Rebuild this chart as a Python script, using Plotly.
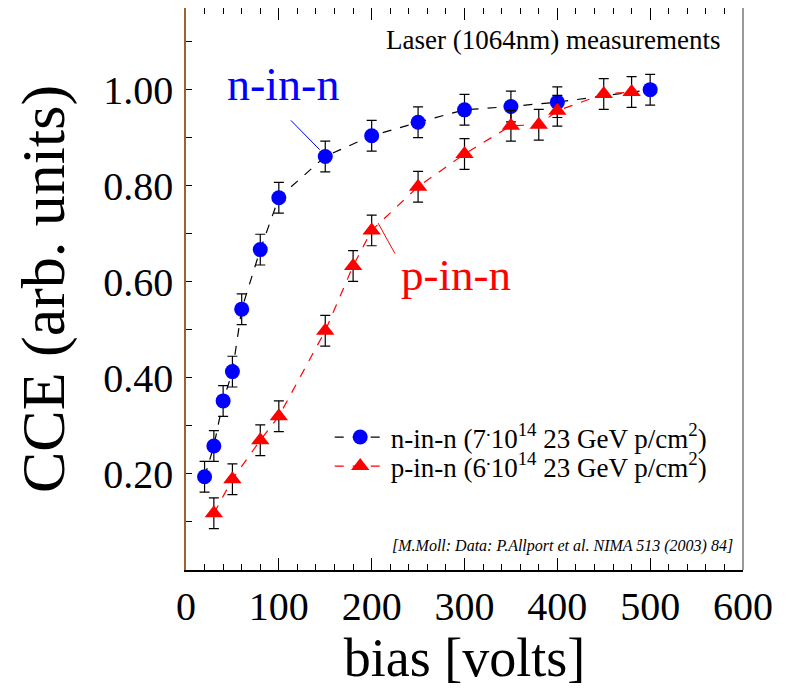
import plotly.graph_objects as go

# ---- data ----
n_bias = [20, 30, 40, 50, 60, 80, 100, 150, 200, 250, 300, 350, 400, 500]
n_cce = [0.194, 0.258, 0.352, 0.413, 0.543, 0.667, 0.775, 0.861, 0.904, 0.932, 0.958, 0.965, 0.974, 1.000]
n_err = [0.032] * len(n_bias)

p_bias = [30, 50, 80, 100, 150, 180, 200, 250, 300, 350, 380, 400, 450, 480]
p_cce = [0.118, 0.189, 0.270, 0.320, 0.498, 0.633, 0.707, 0.798, 0.866, 0.925, 0.927, 0.956, 0.991, 0.995]
p_err = [0.032] * len(p_bias)

x_ticks = [0, 100, 200, 300, 400, 500, 600]
y_ticks = [0.2, 0.4, 0.6, 0.8, 1.0]
y_tick_labels = ["0.20", "0.40", "0.60", "0.80", "1.00"]

n_name = "n-in-n (7<sup>.</sup>10<sup>14</sup> 23 GeV p/cm<sup>2</sup>)"
p_name = "p-in-n (6<sup>.</sup>10<sup>14</sup> 23 GeV p/cm<sup>2</sup>)"

FONT = "Liberation Serif"
LEG_FONT = dict(family=FONT, size=27, color="black")

fig = go.Figure()
fig.add_trace(go.Scatter(
    x=n_bias, y=n_cce, name=n_name, mode="lines+markers", legend="legend",
    line=dict(color="black", width=1.2, dash="dash"),
    marker=dict(symbol="circle", size=15, color="blue"),
    error_y=dict(type="data", array=n_err, color="black", thickness=1.2, width=5),
))
fig.add_trace(go.Scatter(
    x=p_bias, y=p_cce, name=p_name, mode="lines+markers", legend="legend2",
    line=dict(color="red", width=1.2, dash="dash"),
    marker=dict(symbol="triangle-up", size=16, color="red"),
    error_y=dict(type="data", array=p_err, color="black", thickness=1.2, width=5),
))

# the page adds an 8 px body margin, so the figure is 8 px smaller and shifted
fig.update_layout(
    width=782, height=680,
    margin=dict(l=178, r=47, t=0, b=118),
    plot_bgcolor="white", paper_bgcolor="white",
    font=dict(family=FONT, color="black"),
    showlegend=True,
    legend=dict(
        x=0.258, y=0.2794, xanchor="left", yanchor="top",
        bgcolor="rgba(0,0,0,0)", borderwidth=0, itemwidth=51,
        font=LEG_FONT,
    ),
    legend2=dict(
        x=0.258, y=0.2278, xanchor="left", yanchor="top",
        bgcolor="rgba(0,0,0,0)", borderwidth=0, itemwidth=51,
        font=LEG_FONT,
    ),
    xaxis=dict(
        range=[0, 600], tickvals=x_ticks, automargin=False,
        ticks="inside", ticklen=12, tickwidth=1, tickcolor="black",
        minor=dict(dtick=20, ticks="inside", ticklen=6, tickcolor="black", tickwidth=1),
        showline=True, linecolor="black", linewidth=1.5, mirror="ticks",
        showgrid=False, zeroline=False,
        tickfont=dict(family=FONT, size=40),
        title=dict(text="bias [volts]", font=dict(family=FONT, size=54), standoff=2),
    ),
    yaxis=dict(
        range=[0, 1.17], tickvals=y_ticks, ticktext=y_tick_labels, automargin=False,
        ticks="inside", ticklen=6, tickwidth=1, tickcolor="black",
        minor=dict(dtick=0.1, tick0=0, ticks="inside", ticklen=6, tickcolor="black", tickwidth=1),
        showline=True, linecolor="#a0622d", linewidth=1.5, mirror=False,
        showgrid=False, zeroline=False, ticklabelstandoff=3,
        tickfont=dict(family=FONT, size=40),
        title=dict(text="CCE (arb. units)", font=dict(family=FONT, size=62), standoff=19),
    ),
)

# right frame border
fig.add_shape(type="line", xref="paper", yref="paper", x0=1, x1=1, y0=0, y1=1,
              line=dict(color="#777777", width=1.5))

# pointer lines
fig.add_shape(type="line", xref="x", yref="y", x0=113, y0=0.936, x1=144, y1=0.875,
              line=dict(color="blue", width=1))
fig.add_shape(type="line", xref="x", yref="y", x0=207, y0=0.722, x1=225, y1=0.659,
              line=dict(color="red", width=1))

fig.add_annotation(x=104, y=1.01, xref="x", yref="y", text="n-in-n", showarrow=False,
                   font=dict(family=FONT, size=46, color="blue"))
fig.add_annotation(x=291, y=0.615, xref="x", yref="y", text="p-in-n", showarrow=False,
                   font=dict(family=FONT, size=45, color="red"))
fig.add_annotation(x=0.962, y=0.943, xref="paper", yref="paper", xanchor="right", yanchor="middle",
                   text="Laser (1064nm) measurements", showarrow=False,
                   font=dict(family=FONT, size=27, color="black"))
fig.add_annotation(x=0.986, y=0.043, xref="paper", yref="paper", xanchor="right", yanchor="middle",
                   text="<i>[M.Moll: Data: P.Allport et al. NIMA 513 (2003) 84]</i>", showarrow=False,
                   font=dict(family=FONT, size=16, color="black"))

fig.write_html("out.html")
